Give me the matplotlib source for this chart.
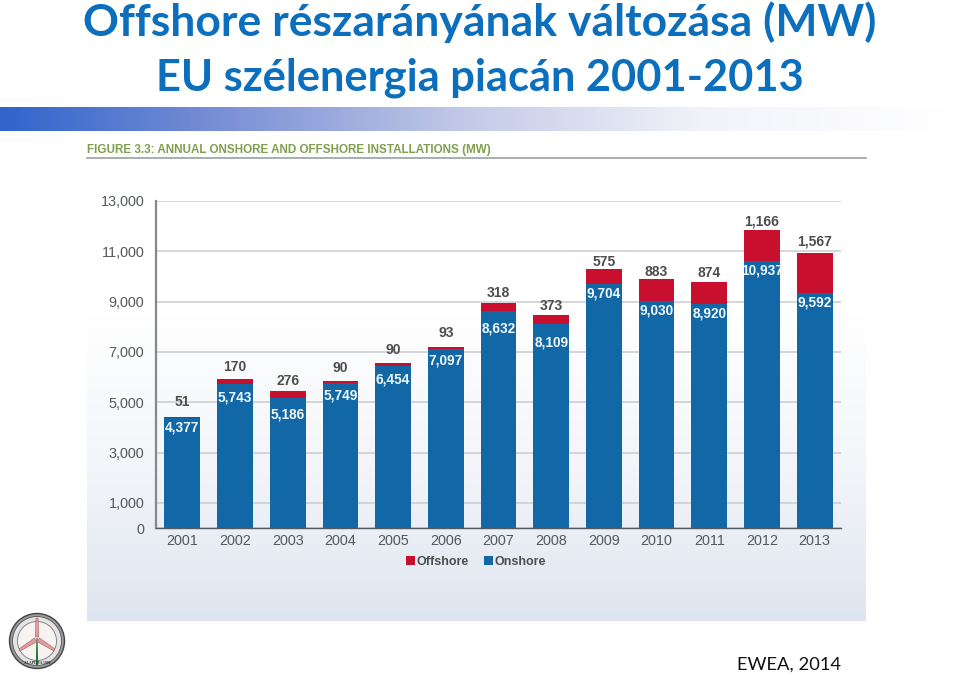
import numpy as np
import matplotlib
matplotlib.use('Agg')
import matplotlib.pyplot as plt
from matplotlib.colors import LinearSegmentedColormap
from matplotlib.patches import Circle, Polygon

years = ['2001', '2002', '2003', '2004', '2005', '2006', '2007',
         '2008', '2009', '2010', '2011', '2012', '2013']
# printed values
onshore_labels = ['4,377', '5,743', '5,186', '5,749', '6,454', '7,097', '8,632',
                  '8,109', '9,704', '9,030', '8,920', '10,937', '9,592']
offshore_labels = ['51', '170', '276', '90', '90', '93', '318',
                   '373', '575', '883', '874', '1,166', '1,567']
# bar heights as drawn (the last two bars are drawn lower than printed)
onshore = [4377, 5743, 5186, 5749, 6454, 7097, 8632,
           8109, 9704, 9030, 8920, 10600, 9340]
offshore = [51, 170, 276, 90, 90, 93, 318,
            373, 575, 883, 874, 1250, 1590]
yticks = [0, 1000, 3000, 5000, 7000, 9000, 11000, 13000]
ytick_labels = ['0', '1,000', '3,000', '5,000', '7,000', '9,000', '11,000', '13,000']

title1 = 'Offshore részarányának változása (MW)'
title2 = 'EU szélenergia piacán 2001-2013'
figure_title = 'FIGURE 3.3: ANNUAL ONSHORE AND OFFSHORE INSTALLATIONS (MW)'
source = 'EWEA, 2014'

W, H = 959, 676
RED = '#c8102e'
BLUE = '#1268a6'
TITLE_BLUE = '#0b6fbd'
GREY = '#4d4d4d'

fig = plt.figure(figsize=(W / 100, H / 100), dpi=100)

# page layer in pixel coordinates
page = fig.add_axes([0, 0, 1, 1])
page.axis('off')

band = LinearSegmentedColormap.from_list('band', ['#3064cb', '#7f93d6', '#c5cce8', '#f3f4fa', '#ffffff'])
page.imshow(np.linspace(0, 1, 256)[None, :], extent=[0, 950, 131, 107], cmap=band, aspect='auto')

panel = LinearSegmentedColormap.from_list('panel', ['#ffffff', '#ffffff', '#f3f5f9', '#dfe5f0'])
page.imshow(np.linspace(0, 1, 256)[:, None], extent=[87, 866, 621, 160], cmap=panel, aspect='auto')
page.set_xlim(0, W)
page.set_ylim(H, 0)

page.text(480, 22.5, title1, ha='center', va='center', family='Lato', weight='bold',
          fontsize=32, color=TITLE_BLUE)
page.text(480, 78, title2, ha='center', va='center', family='Lato', weight='bold',
          fontsize=31.2, color=TITLE_BLUE)
page.text(87, 150, figure_title, ha='left', va='center', family='Liberation Sans', weight='bold',
          fontsize=8.35, color='#7f9f4e')
page.plot([87, 866], [158, 158], color='#9a9fa3', lw=1.2)
page.text(789, 665, source, ha='center', va='center', family='Lato', fontsize=13.2, color='#111111')

# logo
cx, cy = 37, 641
page.add_patch(Circle((cx, cy), 27.5, fc='#9a9a9a', ec='#444444', lw=1))
page.add_patch(Circle((cx, cy), 24.5, fc='#e4e4e4', ec='#555555', lw=0.6))
page.add_patch(Circle((cx, cy), 19.5, fc='#f7f3f1', ec='#777777', lw=0.6))
page.add_patch(Polygon([(cx - 1.2, cy + 24), (cx + 1.2, cy + 24), (cx + 0.6, cy - 3), (cx - 0.6, cy - 3)],
                       fc='#1d7a35', ec='none'))
for blade in [[(cx - 1.8, cy - 4), (cx + 1.8, cy - 4), (cx + 1, cy - 23), (cx - 1, cy - 23)],
              [(cx - 2.5, cy - 3), (cx - 0.5, cy + 1), (cx - 17, cy + 10), (cx - 18, cy + 8)],
              [(cx + 2.5, cy - 3), (cx + 0.5, cy + 1), (cx + 17, cy + 10), (cx + 18, cy + 8)]]:
    page.add_patch(Polygon(blade, fc='#e09aa0', ec='#b06068', lw=0.4))
page.text(cx, cy + 22, 'ALAPÍTVA 1999', ha='center', va='center', fontsize=2.6,
          family='Liberation Serif', weight='bold', color='#222222')

# chart axes, 0 at y=528, 13000 at y=201, x axis from 156 to 841
left, right, top, bottom = 156, 841, 201, 528
ax = fig.add_axes([left / W, 1 - bottom / H, (right - left) / W, (bottom - top) / H])
ax.patch.set_alpha(0)
x = np.arange(len(years))
ax.set_xlim(-0.5, len(years) - 0.5)
ax.set_ylim(0, 13000)
ax.set_axisbelow(True)
ax.yaxis.grid(True, color='#c9cccf', lw=1.1)
ax.bar(x, onshore, width=0.68, color=BLUE, label='Onshore')
ax.bar(x, offshore, width=0.68, bottom=onshore, color=RED, label='Offshore')

# label gaps in px, they differ per bar in the original
over = [15, 12, 10, 13, 13, 14, 10, 9, 7, 7, 9, 8, 12]
under = [10, 14, 17, 12, 14, 11, 18, 18, 10, 10, 10, 9, 9]
for i in x:
    total = onshore[i] + offshore[i]
    ax.annotate(offshore_labels[i], (i, total), xytext=(0, over[i] * 0.72), textcoords='offset points',
                ha='center', va='center', fontsize=10, color=GREY, family='Liberation Sans', weight='bold')
    ax.annotate(onshore_labels[i], (i, onshore[i]), xytext=(0, -under[i] * 0.72), textcoords='offset points',
                ha='center', va='center', fontsize=9.8, color='#f2f7fb', family='Liberation Sans', weight='bold')

for s in ['top', 'right']:
    ax.spines[s].set_visible(False)
ax.spines['left'].set_color('#85898c')
ax.spines['left'].set_linewidth(1.6)
ax.spines['bottom'].set_color('#55595c')
ax.spines['bottom'].set_linewidth(1)
ax.set_yticks(yticks)
ax.set_yticklabels(ytick_labels, fontsize=10.4, color='#55595c', family='Liberation Sans')
ax.set_xticks(x)
ax.set_xticklabels(years, fontsize=10.4, color='#55595c', family='Liberation Sans')
ax.tick_params(axis='y', length=0, pad=8.5)
ax.tick_params(axis='x', length=0, pad=4)

handles, labels = ax.get_legend_handles_labels()
leg = ax.legend(handles[::-1], labels[::-1], ncol=2, frameon=False, loc='center',
                bbox_to_anchor=((476 - left) / (right - left), -(562 - bottom) / (bottom - top)),
                handlelength=0.75, handleheight=0.75, handletextpad=0.1, columnspacing=1.2,
                prop={'family': 'Liberation Sans', 'weight': 'bold', 'size': 9})
for t in leg.get_texts():
    t.set_color(GREY)

fig.savefig('out.png', dpi=100)
plt.close(fig)
